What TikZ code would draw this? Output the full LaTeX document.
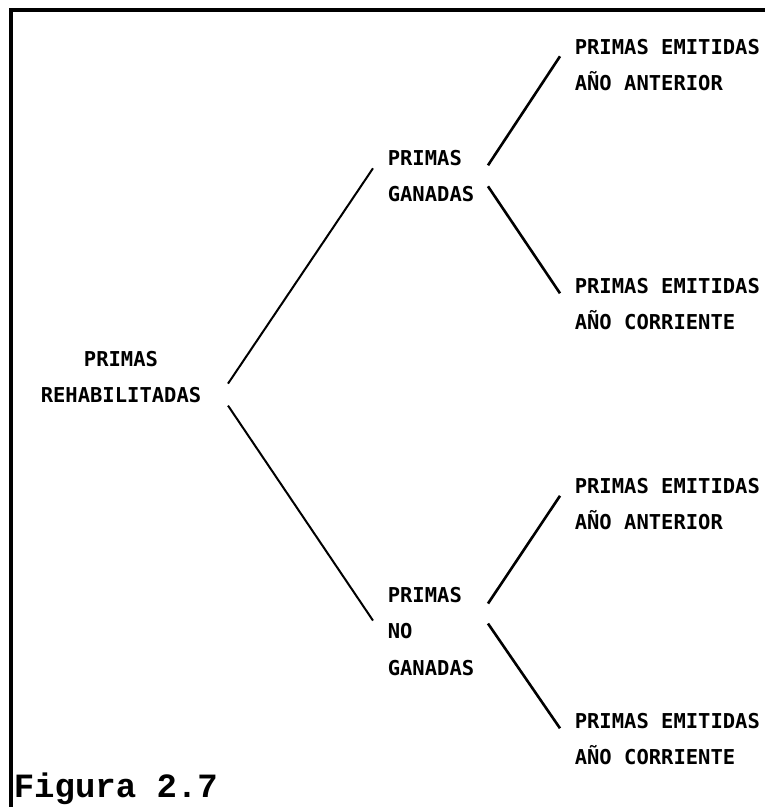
\documentclass[tikz,border=0pt]{standalone}
\usepackage{fontspec}
\newfontfamily\impfont{DejaVu Sans Mono}
\newfontfamily\figfont{Liberation Mono}

\begin{document}
\begin{tikzpicture}[x=1pt, y=-1pt, line width=1.6pt,
    caja/.style={inner sep=0pt, align=left,
      font=\impfont\bfseries\fontsize{20.5}{36.5}\selectfont},
    rama/.style={line width=2pt},
    ramita/.style={line width=2.6pt}]
  \useasboundingbox (0,0) rectangle (765,807);

  % Marco
  \draw[line width=3.2pt] (11,807) -- (11,10) -- (765,10);

  % Primas rehabilitadas
  \node[caja, align=center, anchor=north] (reh) at (121,350) {PRIMAS\\REHABILITADAS};

  % Ganadas y no ganadas
  \node[caja, anchor=north west] (gan) at (387,149) {PRIMAS\\GANADAS};
  \node[caja, anchor=north west] (nogan) at (387,586) {PRIMAS\\NO\\GANADAS};

  % Primas emitidas
  \node[caja, anchor=north west] (em1) at (574,38) {PRIMAS EMITIDAS\\AÑO ANTERIOR};
  \node[caja, anchor=north west] (em2) at (574,277) {PRIMAS EMITIDAS\\AÑO CORRIENTE};
  \node[caja, anchor=north west] (em3) at (574,477) {PRIMAS EMITIDAS\\AÑO ANTERIOR};
  \node[caja, anchor=north west] (em4) at (574,712) {PRIMAS EMITIDAS\\AÑO CORRIENTE};

  % Ramas principales
  \draw[rama] ([shift={(26,-20)}]reh.south east) -- ([shift={(-14,-7.5)}]gan.west);
  \draw[rama] ([shift={(26,2)}]reh.south east) -- ([shift={(-14,-10.5)}]nogan.west);

  % Ramas secundarias
  \draw[ramita] ([shift={(13,-10.5)}]gan.east) -- ([shift={(-14,-8.5)}]em1.west);
  \draw[ramita] ([shift={(13,10.5)}]gan.east) -- ([shift={(-14,-10.5)}]em2.west);
  \draw[ramita] ([shift={(13,-27.5)}]nogan.east) -- ([shift={(-14,-8)}]em3.west);
  \draw[ramita] ([shift={(13,-7.5)}]nogan.east) -- ([shift={(-14,-10.5)}]em4.west);

  % Pie
  \node[inner sep=0pt, anchor=base west, font=\figfont\bfseries\fontsize{34}{34}\selectfont]
    (pie) at (13,797) {Figura 2.7};
\end{tikzpicture}
\end{document}
